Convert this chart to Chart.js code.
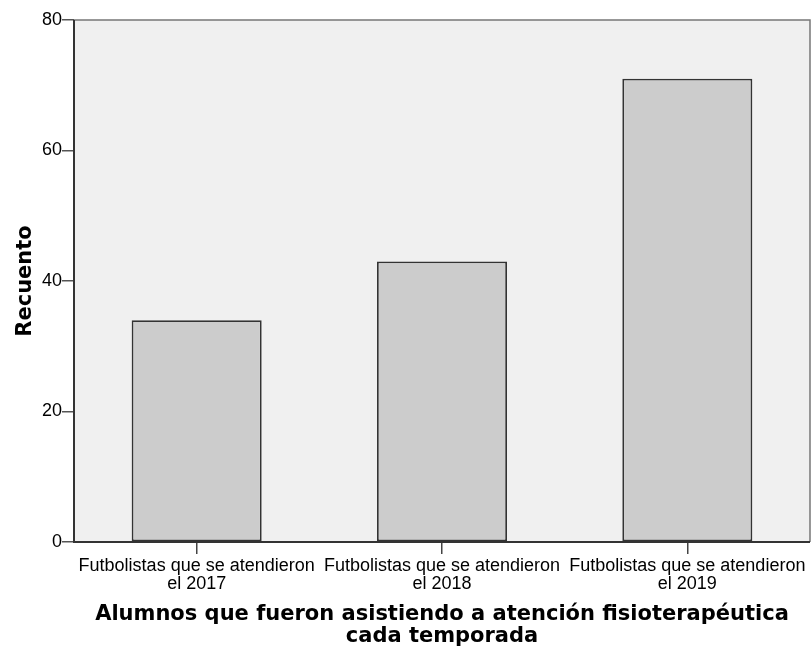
<!DOCTYPE html>
<html><head><meta charset="utf-8">
<script src="https://cdn.jsdelivr.net/npm/chart.js@4.4.1/dist/chart.umd.min.js"></script>
<style>html,body{margin:0;padding:0;background:#fff;}#wrap{width:811px;height:651px;}</style>
</head><body><div id="wrap"><canvas id="c" width="811" height="651"></canvas></div>
<script>
const categories = [
  ["Futbolistas que se atendieron", "el 2017"],
  ["Futbolistas que se atendieron", "el 2018"],
  ["Futbolistas que se atendieron", "el 2019"]
];
const counts = [34, 43, 71];
const yTicks = [0, 20, 40, 60, 80];
const xTitle = ["Alumnos que fueron asistiendo a atención fisioterapéutica", "cada temporada"];
const yTitle = "Recuento";

const frame = {
  id: 'frame',
  beforeDatasetsDraw(chart) {
    const {ctx, chartArea: a} = chart;
    ctx.save();
    ctx.fillStyle = '#F0F0F0';
    ctx.fillRect(a.left, a.top, a.right - a.left, a.bottom - a.top);
    ctx.restore();
  },
  afterDraw(chart) {
    const {ctx, chartArea: a} = chart;
    ctx.save();
    ctx.strokeStyle = '#777';
    ctx.lineWidth = 1.5;
    ctx.beginPath();
    ctx.moveTo(a.left, a.top); ctx.lineTo(a.right, a.top); ctx.lineTo(a.right, a.bottom);
    ctx.stroke();
    ctx.strokeStyle = '#333';
    ctx.lineWidth = 2;
    ctx.beginPath();
    ctx.moveTo(a.left, a.top); ctx.lineTo(a.left, a.bottom); ctx.lineTo(a.right, a.bottom);
    ctx.stroke();
    ctx.restore();
  }
};

new Chart(document.getElementById('c'), {
  type: 'bar',
  data: {
    labels: categories,
    datasets: [{
      data: counts,
      backgroundColor: '#CCCCCC',
      borderColor: '#333333',
      borderWidth: 1.8,
      borderSkipped: false,
      categoryPercentage: 1,
      barPercentage: 0.53
    }]
  },
  options: {
    responsive: false,
    animation: false,
    devicePixelRatio: 1,
    layout: {padding: {top: 20, right: 1, left: 0, bottom: 0}},
    plugins: {legend: {display: false}, tooltip: {enabled: false}},
    scales: {
      x: {
        grid: {display: true, offset: false, drawOnChartArea: false, drawTicks: true, tickLength: 12, color: '#444', lineWidth: 1.5},
        border: {display: false},
        ticks: {color: '#000', font: {family: 'Liberation Sans', size: 18, lineHeight: 1.0}, maxRotation: 0, autoSkip: false, padding: 3},
        title: {display: true, text: xTitle, color: '#000', font: {family: 'DejaVu Sans', size: 21, weight: 'bold', lineHeight: 1.05}, padding: {top: 0, bottom: 3}},
        afterFit(s) { s.height = 109; }
      },
      y: {
        min: 0, max: 80,
        afterBuildTicks(s) { s.ticks = yTicks.map(v => ({value: v})); },
        grid: {display: true, drawOnChartArea: false, drawTicks: true, tickLength: 12, color: '#555', lineWidth: 1.5},
        border: {display: false},
        ticks: {color: '#000', font: {family: 'Liberation Sans', size: 18}, padding: 0},
        title: {display: true, text: yTitle, color: '#000', font: {family: 'DejaVu Sans', size: 21, weight: 'bold'}, padding: {top: 13, bottom: 0}},
        afterFit(s) { s.width = 74; }
      }
    }
  },
  plugins: [frame]
});
</script></body></html>
